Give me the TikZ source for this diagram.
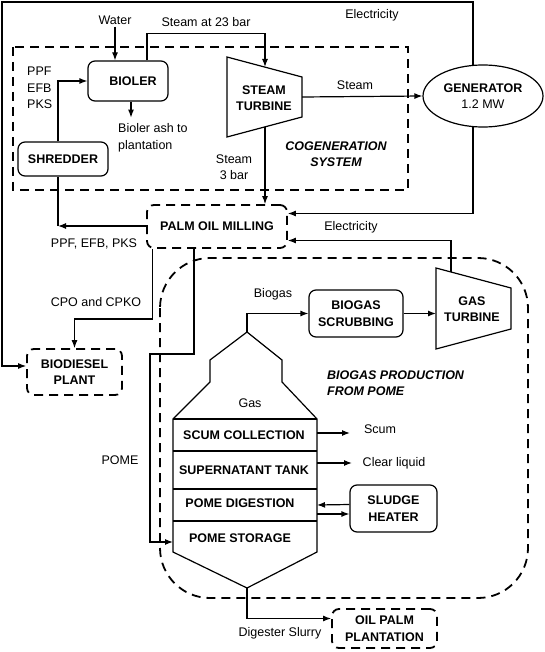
\documentclass[tikz,border=0pt]{standalone}
\usepackage{fontspec}
\setmainfont{Liberation Sans}
\usetikzlibrary{calc, arrows.meta, shapes.geometric}

\newcommand{\diagfont}{\fontsize{12.5}{16.5}\selectfont}

\tikzset{
  flow/.style = {line width = 1.2pt, -{Latex[length = 8pt, width = 6pt]}},
  edge/.style = {line width = 1.2pt},
  unitbox/.style = {draw, line width = 1.2pt, rounded corners = 7pt,
    inner sep = 0pt, align = center, font = \diagfont\bfseries},
  plantbox/.style = {unitbox, dash pattern = on 9pt off 6pt, line width = 1.8pt},
  region/.style = {line width = 1.8pt, dash pattern = on 9pt off 6pt},
  tag/.style = {inner sep = 0pt, align = center},
  boldtag/.style = {tag, font = \diagfont\bfseries},
  systemtag/.style = {tag, font = \diagfont\bfseries\itshape}
}

\begin{document}
\begin{tikzpicture}[x = 1pt, y = -1pt, font = \diagfont]

        \useasboundingbox (0, 0) rectangle (545, 652);

        % The two dashed systems.
        \draw [region] (13, 47) rectangle (408, 190);
        \draw [region, rounded corners = 50pt] (160, 258) rectangle (528, 598);

        % Units of the plant.
        \node (bioler) at (128, 81) [unitbox, minimum width = 80pt, minimum height = 40pt] {\hspace{10pt}BIOLER};
        \node (shredder) at (63, 159) [unitbox, minimum width = 90pt, minimum height = 34pt] {SHREDDER};
        \node (milling) at (217, 226.5) [plantbox, minimum width = 140pt, minimum height = 43pt] {PALM OIL MILLING};
        \node (biodiesel) at (74.5, 372) [plantbox, minimum width = 95pt, minimum height = 46pt] {BIODIESEL\\PLANT};
        \node (scrubbing) at (356, 313.5) [unitbox, minimum width = 94pt, minimum height = 47pt] {BIOGAS\\SCRUBBING};
        \node (sludge) at (393.5, 508.5) [unitbox, minimum width = 87pt, minimum height = 47pt] {SLUDGE\\HEATER};
        \node (plantation) at (384.5, 628.5) [plantbox, minimum width = 105pt, minimum height = 39pt] {OIL PALM\\PLANTATION};
        \node (generator) at (483, 96) [draw, ellipse, line width = 1.2pt, minimum width = 120pt,
          minimum height = 62pt, inner sep = 0pt, align = center] {\textbf{GENERATOR}\\1.2 MW\hspace{10pt}};

        % Steam turbine and gas turbine.
        \draw [edge] (227, 57) -- (302, 77) -- (302, 117) -- (227, 137) -- cycle;
        \node (steamturbine) at (264, 98) [boldtag] {STEAM\\TURBINE};
        \draw [edge] (436, 268) -- (511, 288) -- (511, 329) -- (436, 349) -- cycle;
        \node (gasturbine) at (472, 309) [boldtag] {GAS\\TURBINE};

        % Digester with its four stages.
        \draw [edge] (173, 419) -- (173, 552) -- (247, 588) -- (317, 552) -- (317, 419)
          -- (282, 382) -- (282, 360) -- (247, 332) -- (210, 360) -- (210, 382) -- cycle;
        \draw [edge] (173, 419) -- (317, 419);
        \draw [edge] (173, 451) -- (317, 451);
        \draw [edge] (173, 489) -- (317, 489);
        \draw [edge] (173, 521) -- (317, 521);
        \node (gas) at (250, 403) [tag] {Gas};
        \node (scum) at (244, 435) [boldtag] {SCUM COLLECTION};
        \node (supernatant) at (244, 470) [boldtag] {SUPERNATANT TANK};
        \node (digestion) at (240, 503) [boldtag] {POME DIGESTION};
        \node (storage) at (240, 538) [boldtag] {POME STORAGE};

        % Points where the connectors meet the shapes.
        \coordinate (stin) at (265, 67);
        \coordinate (stout) at (265, 127);
        \coordinate (stright) at (302, 97);
        \coordinate (gtin) at (436, 313.5);
        \coordinate (gttop) at (451, 272);
        \coordinate (gentop) at (473, 65.4);
        \coordinate (genbottom) at (473, 126.6);
        \coordinate (apex) at (247, 332);
        \coordinate (bottom) at (247, 588);
        \coordinate (dgin) at (173, 542);
        \coordinate (scumout) at (317, 433);
        \coordinate (clearout) at (317, 463);
        \coordinate (heatin) at (317, 505);
        \coordinate (heatout) at (317, 514);
        \coordinate (fibre) at (58, 226);

        % Text labels.
        \node (water) at (115, 20) [tag] {Water};
        \node (steamhigh) at (206, 22) [tag] {Steam at 23 bar};
        \node (ash) at (118, 138) [tag, anchor = west, align = left] {Bioler ash to\\plantation};
        \node (fuels) at (27, 88) [tag, anchor = west, align = left] {PPF\\EFB\\PKS};
        \node (steamlow) at (234, 167) [tag] {Steam\\3 bar};
        \node (steam) at (355, 85) [tag] {Steam};
        \node (elecgen) at (372, 15) [tag] {Electricity};
        \node (elecgas) at (351, 227) [tag] {Electricity};
        \node (cogen) at (336, 154) [systemtag] {COGENERATION\\SYSTEM};
        \node (biogasprod) at (327, 383) [systemtag, anchor = west, align = left] {BIOGAS PRODUCTION\\FROM POME};
        \node (fibres) at (94, 244) [tag] {PPF, EFB, PKS};
        \node (cpo) at (96, 302) [tag] {CPO and CPKO};
        \node (pome) at (120, 460) [tag] {POME};
        \node (biogas) at (273, 294) [tag] {Biogas};
        \node (scumtext) at (380, 429) [tag] {Scum};
        \node (clear) at (394, 463) [tag] {Clear liquid};
        \node (slurry) at (280, 633) [tag] {Digester Slurry};

        % Cogeneration flows.
        \draw [flow] (water.south) ++(0, 2) -- (bioler.north -| water.south);
        \draw [flow] ($(bioler.north)+(19, 0)$) -- ++(0, -27) -| (stin);
        \draw [flow] ($(bioler.south)+(3, 0)$) -- ++(0, 16);
        \draw [flow] ($(shredder.north)+(-5, 0)$) |- (bioler.west);
        \draw [flow] (stright) -- (generator.west);
        \draw [flow] (stout) -- (stout |- milling.north);

        % Electricity to the mill and to the biodiesel plant.
        \draw [flow] (gentop) -- (473, 2) -- (2, 2) |- ($(biodiesel.west)+(0, -6)$);
        \draw [flow] (genbottom) |- ($(milling.east)+(0, -13)$);
        \draw [flow] (gttop) |- ($(milling.east)+(0, 14)$);

        % Products of the mill.
        \draw [flow] (milling.west |- fibre) -- (fibre);
        \draw [edge] (fibre) -- ($(shredder.south)+(-5, 0)$);
        \draw [flow] ($(milling.south west)+(6, 0)$) -- ++(0, 70) -| (biodiesel.north);
        \draw [flow] ($(milling.south)+(-23, 0)$) |- (150, 354) |- (dgin);

        % Biogas train.
        \draw [flow] (apex) |- (scrubbing.west);
        \draw [flow] (scrubbing.east) -- (gtin);
        \draw [flow] (scumout) -- ++(33, 0);
        \draw [flow] (clearout) -- ++(35, 0);
        \draw [flow] ($(sludge.west)+(0, -4)$) -- (heatin);
        \draw [flow] (heatout) -- (sludge.west |- heatout);
        \draw [flow] (bottom) |- ($(plantation.west)+(0, -10)$);
    \end{tikzpicture}
\end{document}
